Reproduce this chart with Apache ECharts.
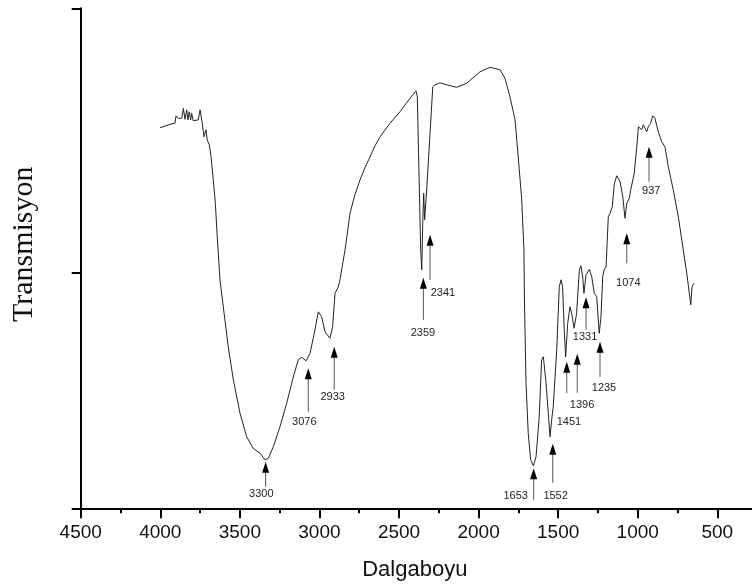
<!DOCTYPE html>
<html>
<head>
<meta charset="utf-8">
<script src="https://cdn.jsdelivr.net/npm/echarts@6.0.0/dist/echarts.min.js"></script>
<style>
  html, body { margin: 0; padding: 0; background: #ffffff; }
  #chart { width: 752px; height: 587px; }
</style>
</head>
<body>
<div id="chart"></div>
<script>
// Spectrum: wavenumber (cm-1) and transmission (arbitrary units)
var spectrumWn = [4002,3939,3908,3901,3887,3865,3855,3845,3834,3826,
  3818,3809,3803,3793,3761,3750,3736,3725,3713,3705,
  3692,3681,3667,3654,3642,3625,3604,3573,3541,3499,
  3457,3416,3373,3342,3321,3290,3248,3206,3164,3133,
  3111,3084,3059,3028,3007,2986,2965,2934,2917,2902,
  2881,2871,2839,2819,2808,2777,2745,2714,2682,2651,
  2619,2557,2494,2431,2393,2385,2373,2364,2357,2351,
  2345,2339,2326,2305,2288,2274,2243,2200,2138,2075,
  1991,1928,1865,1834,1803,1771,1751,1729,1715,1712,
  1702,1688,1673,1656,1639,1619,1604,1593,1576,1562,
  1551,1541,1531,1509,1493,1482,1472,1461,1453,1440,
  1426,1415,1400,1384,1367,1357,1346,1338,1325,1304,
  1289,1273,1258,1242,1231,1220,1212,1199,1185,1174,
  1160,1147,1132,1111,1094,1080,1069,1053,1044,1032,
  1022,1006,996,986,975,965,954,944,934,919,
  906,892,871,849,829,808,777,745,714,692,
  676,667,659,647];
var spectrumT = [76.1,76.8,77.0,78.5,78.0,78.0,80.0,77.8,79.7,77.7,
  79.3,77.7,79.0,77.5,77.7,79.7,77.0,74.3,75.7,73.7,
  72.7,70.3,65.7,61.0,54.3,45.7,40.3,32.3,25.7,19.0,
  14.3,12.0,11.0,9.7,10.0,12.3,16.3,21.0,26.3,29.7,
  30.2,29.5,31.0,35.7,39.3,38.3,35.3,34.0,36.3,43.0,
  44.3,45.7,51.7,56.3,59.0,62.7,65.7,68.1,70.3,72.5,
  74.3,77.0,79.3,82.0,83.5,82.3,65.0,51.7,47.7,57.0,
  63.0,57.7,63.7,75.0,84.3,84.7,85.1,84.7,84.2,85.0,
  87.3,88.2,87.7,86.0,82.3,77.7,70.3,61.7,51.7,41.7,
  25.0,15.0,9.7,8.5,10.3,18.3,29.7,30.3,25.0,19.0,
  14.3,17.7,20.3,31.7,44.3,45.7,44.3,35.0,30.3,37.0,
  40.3,39.0,36.0,39.0,47.7,48.5,46.3,43.0,46.7,47.8,
  46.3,43.0,42.3,35.0,38.3,46.3,47.7,48.3,58.3,59.0,
  60.3,65.0,66.5,65.3,62.3,58.0,61.0,62.0,63.7,63.3,
  67.0,72.3,76.3,76.7,75.7,76.7,76.0,75.3,76.3,77.0,
  78.5,78.0,75.3,73.3,72.3,68.3,63.7,58.3,51.7,47.0,
  43.0,40.7,44.3,45.0];

// Peak annotations (all in data units)
var annText    = ['3300','3076','2933','2359','2341','1653','1552','1451','1396','1331','1235','1074','937'];
var annWn      = [3338, 3070, 2907, 2347, 2305, 1654, 1534, 1446, 1380, 1325, 1237, 1069, 929];
var annTipT    = [9.3, 28.0, 32.3, 46.1, 54.7, 8.0, 12.9, 29.3, 30.9, 42.2, 33.3, 55.0, 72.3];
var annTailT   = [4.3, 19.3, 23.7, 37.7, 45.7, 1.7, 5.1, 23.0, 23.1, 35.7, 26.3, 49.0, 65.3];
var annLabelWn = [3365, 3095, 2917, 2350, 2224, 1767, 1516, 1432, 1350, 1331, 1212, 1059, 915];
var annLabelT  = [2.9, 17.3, 22.2, 35.1, 43.1, 2.5, 2.5, 17.3, 20.7, 34.3, 24.0, 45.1, 63.5];

// axis settings
var xMin = 0, xMax = 4500, xStep = 500;
var yTicks = [0, 47.2, 100];

var lineData = spectrumWn.map(function (w, i) { return [w, spectrumT[i]]; });
var annData = annWn.map(function (w, i) {
  return [w, annTipT[i], annTailT[i], annLabelWn[i], annLabelT[i]];
});

var chart = echarts.init(document.getElementById('chart'), null, { renderer: 'canvas' });
chart.setOption({
  animation: false,
  backgroundColor: '#ffffff',
  grid: { left: 80.7, width: 716.2, top: 8.3, height: 500, containLabel: false, outerBoundsMode: 'none' },
  xAxis: {
    type: 'value', inverse: true, min: xMin, max: xMax, interval: xStep,
    name: 'Dalgaboyu', nameLocation: 'middle', nameGap: 51,
    nameTextStyle: { fontFamily: 'Liberation Sans', fontSize: 22, color: '#111', padding: [0, 48, 0, 0] },
    axisLine: { show: true, onZero: false, lineStyle: { color: '#000', width: 2 } },
    axisTick: { show: true, inside: false, length: 10, lineStyle: { color: '#000', width: 2 } },
    minorTick: { show: true, splitNumber: 2, length: 5, lineStyle: { color: '#000', width: 2 } },
    axisLabel: { margin: 15, fontFamily: 'Liberation Sans', fontSize: 19, color: '#111',
      formatter: function (v) { return String(v); } },
    splitLine: { show: false }, minorSplitLine: { show: false }
  },
  yAxis: {
    type: 'value', min: 0, max: 100, position: 'left',
    name: 'Transmisyon', nameLocation: 'middle', nameGap: 42,
    nameTextStyle: { fontFamily: 'Liberation Serif', fontSize: 30, color: '#111', padding: [0, 0, 0, 28] },
    axisLine: { show: true, onZero: false, lineStyle: { color: '#000', width: 2 } },
    axisTick: { show: true, inside: false, length: 9, customValues: yTicks, lineStyle: { color: '#000', width: 2 } },
    axisLabel: { show: false },
    splitLine: { show: false }
  },
  series: [
    {
      type: 'line', data: lineData, showSymbol: false, symbol: 'none',
      lineStyle: { color: '#222', width: 1 }, silent: true, z: 3
    },
    {
      type: 'custom', data: annData, silent: true, z: 4,
      encode: { x: 0, y: 1 },
      renderItem: function (params, api) {
        var tip = api.coord([api.value(0), api.value(1)]);
        var tail = api.coord([api.value(0), api.value(2)]);
        var lab = api.coord([api.value(3), api.value(4)]);
        var hh = 11, hw = 7;
        return {
          type: 'group',
          children: [
            { type: 'line', shape: { x1: tip[0], y1: tip[1] + hh - 1, x2: tail[0], y2: tail[1] },
              style: { stroke: '#555', lineWidth: 1 } },
            { type: 'polygon', shape: { points: [[tip[0], tip[1]], [tip[0] - hw / 2, tip[1] + hh], [tip[0] + hw / 2, tip[1] + hh]] },
              style: { fill: '#000' } },
            { type: 'text', x: lab[0], y: lab[1],
              style: { text: annText[params.dataIndex], font: '11px "Liberation Sans"', fill: '#222', align: 'center', verticalAlign: 'middle' } }
          ]
        };
      }
    }
  ]
});
</script>
</body>
</html>
